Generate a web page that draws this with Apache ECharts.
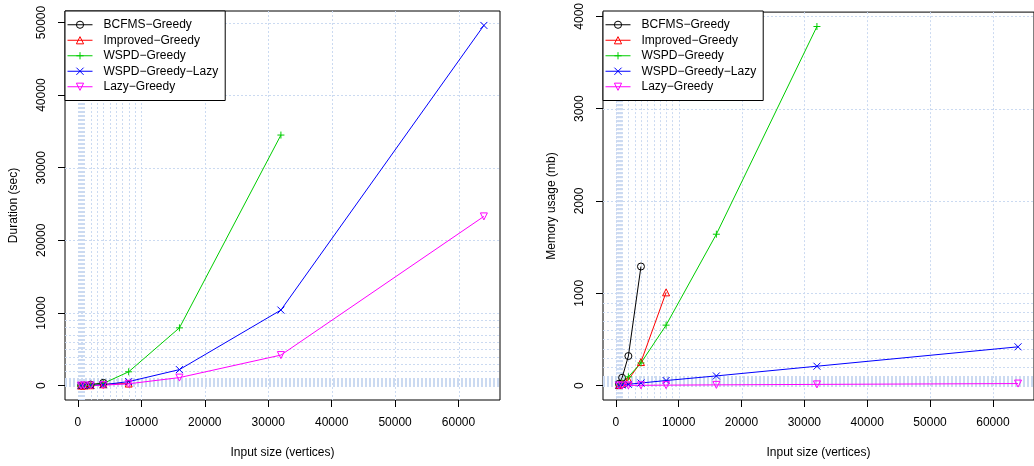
<!DOCTYPE html>
<html>
<head>
<meta charset="utf-8">
<script src="https://cdn.jsdelivr.net/npm/echarts@6/dist/echarts.min.js"></script>
<style>
  html, body { margin: 0; padding: 0; background: #fff; }
  #chart { width: 1034px; height: 466px; }
</style>
</head>
<body>
<div id="chart"></div>
<script>
// --- data ---
const sizes = [500, 1000, 2000, 4000, 8000, 16000, 32000, 64000];
const seriesNames = ['BCFMS\u2212Greedy', 'Improved\u2212Greedy', 'WSPD\u2212Greedy', 'WSPD\u2212Greedy\u2212Lazy', 'Lazy\u2212Greedy'];

// duration (sec)
const durBCFMS = [3, 20, 130, 380];
const durImproved = [2, 10, 50, 180, 280];
const durWSPD = [2, 10, 60, 300, 1900, 7950, 34500];
const durWSPDLazy = [1, 5, 25, 120, 550, 2200, 10400, 49600];
const durLazy = [1, 3, 15, 60, 250, 1100, 4200, 23300];

// memory (mb)
const memBCFMS = [20, 85, 320, 1290];
const memImproved = [6, 20, 65, 255, 1010];
const memWSPD = [10, 30, 95, 245, 655, 1640, 3890];
const memWSPDLazy = [4, 7, 14, 28, 55, 105, 210, 420];
const memLazy = [1, 1, 2, 3, 5, 8, 13, 22];

const xTicks = [0, 10000, 20000, 30000, 40000, 50000, 60000];
const durTicks = [0, 10000, 20000, 30000, 40000, 50000];
const memTicks = [0, 1000, 2000, 3000, 4000];

// --- style ---
const COLORS = ['#000000', '#FF0000', '#00CD00', '#0000FF', '#FF00FF'];
const SYMBOLS = [
  'circle',
  'triangle',
  'path://M5,0L5,10M0,5L10,5',
  'path://M0,0L10,10M0,10L10,0',
  'triangle'
];
const ROTATE = [0, 0, 0, 0, 180];
const FONT = 'Liberation Sans, Arial, sans-serif';
const GRID_COLOR = '#cbdaf1';

// grid lines at 1..9 x 10^k (like the original plot)
const gridVals = (max) => {
  const out = [];
  for (let p = 1; p <= 10000; p *= 10) {
    for (let k = 1; k <= 9; k++) {
      if (k * p <= max) out.push(k * p);
    }
  }
  return out;
};

const pairs = (vals) => vals.map((v, i) => [sizes[i], v]);

const makeSeries = (gi, lists) => lists.map((vals, i) => ({
  name: seriesNames[i],
  type: 'line',
  xAxisIndex: gi,
  yAxisIndex: gi,
  data: pairs(vals),
  symbol: SYMBOLS[i],
  symbolRotate: ROTATE[i],
  symbolSize: 7,
  showAllSymbol: true,
  z: 3,
  lineStyle: { color: COLORS[i], width: 1 },
  itemStyle: { color: 'none', borderColor: COLORS[i], borderWidth: 1 },
  emphasis: { disabled: true },
  animation: false
}));

// dotted grid lines, drawn through the axis scales
// each item: [value, dir]  dir 0 = vertical (x value), 1 = horizontal (y value)
const gridSeries = (gi, xMax, yMax) => ({
  type: 'custom',
  xAxisIndex: gi,
  yAxisIndex: gi,
  z: 1,
  silent: true,
  animation: false,
  clip: true,
  data: [
    ...gridVals(xMax).map(v => [v, 0]),
    ...gridVals(yMax).map(v => [v, 1])
  ],
  renderItem: (params, api) => {
    const v = api.value(0);
    const dir = api.value(1);
    const cs = params.coordSys;
    let x1, y1, x2, y2;
    if (dir === 0) {
      x1 = x2 = Math.round(api.coord([v, 0])[0]) + 0.5;
      y1 = cs.y; y2 = cs.y + cs.height;
    } else {
      y1 = y2 = Math.round(api.coord([0, v])[1]) + 0.5;
      x1 = cs.x; x2 = cs.x + cs.width;
    }
    return {
      type: 'line',
      shape: { x1, y1, x2, y2 },
      style: { stroke: GRID_COLOR, lineWidth: 1, lineDash: [2, 2], fill: null }
    };
  }
});

const plain = (v) => String(v);

const xAxisCfg = (gi) => ({
  type: 'value',
  gridIndex: gi,
  min: -2040,
  max: 66540,
  axisLine: { show: false, onZero: false },
  axisTick: { show: true, customValues: xTicks, length: 7, lineStyle: { color: '#000' } },
  axisLabel: { customValues: xTicks, formatter: plain, margin: 17, color: '#000', fontSize: 12, fontFamily: FONT },
  splitLine: { show: false },
  name: 'Input size (vertices)',
  nameLocation: 'middle',
  nameGap: 47,
  nameTextStyle: { color: '#000', fontSize: 12, fontFamily: FONT }
});

const yAxisCfg = (gi, min, max, ticks, name) => ({
  type: 'value',
  gridIndex: gi,
  min, max,
  axisLine: { show: false, onZero: false },
  axisTick: { show: true, customValues: ticks, length: 7, lineStyle: { color: '#000' } },
  axisLabel: { customValues: ticks, formatter: plain, rotate: 90, margin: 17, color: '#000', fontSize: 12, fontFamily: FONT },
  splitLine: { show: false },
  name,
  nameLocation: 'middle',
  nameGap: 45,
  nameTextStyle: { color: '#000', fontSize: 12, fontFamily: FONT }
});

const legendCfg = (left) => ({
  orient: 'vertical',
  left, top: 11,
  data: seriesNames,
  backgroundColor: '#fff',
  borderColor: '#000',
  borderWidth: 1,
  borderRadius: 0,
  padding: [6, 7, 6, 2],
  itemWidth: 25,
  itemHeight: 9,
  itemGap: 0,
  selectedMode: false,
  itemStyle: { borderWidth: 1 },
  lineStyle: { width: 1 },
  textStyle: { color: '#000', fontSize: 12, fontFamily: FONT, lineHeight: 15.5, padding: [0, 0, 0, 6] }
});

const chart = echarts.init(document.getElementById('chart'));
chart.setOption({
  animation: false,
  backgroundColor: '#fff',
  grid: [
    { left: 65, top: 11, width: 435, height: 389, show: true, borderColor: '#000', borderWidth: 1, backgroundColor: 'transparent' },
    { left: 603, top: 11, width: 435, height: 389, show: true, borderColor: '#000', borderWidth: 1, backgroundColor: 'transparent' }
  ],
  legend: [legendCfg(65), legendCfg(603)],
  xAxis: [xAxisCfg(0), xAxisCfg(1)],
  yAxis: [
    yAxisCfg(0, -1984, 51584, durTicks, 'Duration (sec)'),
    yAxisCfg(1, -156, 4046, memTicks, 'Memory usage (mb)')
  ],
  series: [
    gridSeries(0, 66540, 51584),
    gridSeries(1, 66540, 4046),
    ...makeSeries(0, [durBCFMS, durImproved, durWSPD, durWSPDLazy, durLazy]),
    ...makeSeries(1, [memBCFMS, memImproved, memWSPD, memWSPDLazy, memLazy])
  ]
});
</script>
</body>
</html>
